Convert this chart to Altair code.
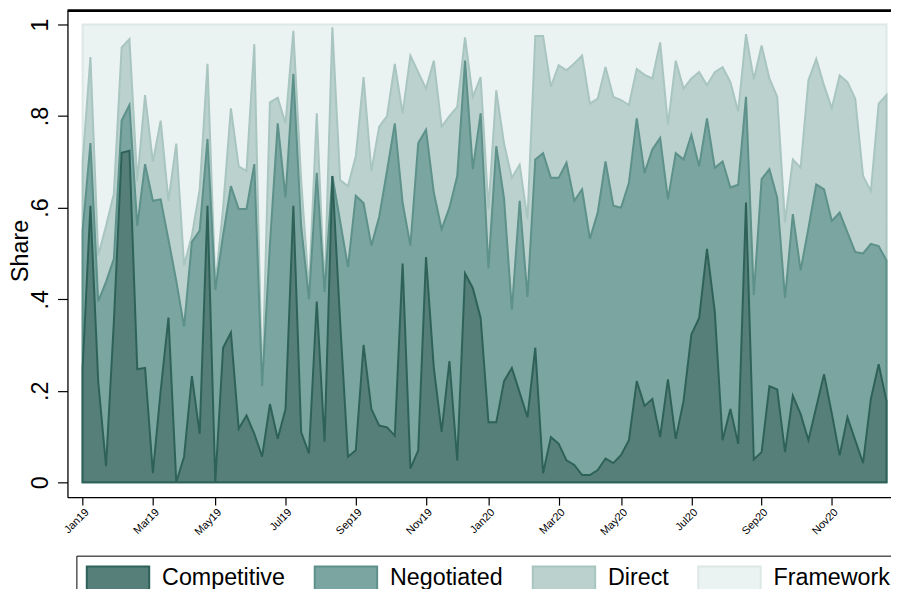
import altair as alt
import pandas as pd

# ---- data (weekly shares, cumulative from the bottom) ----
weeks = list(range(104))

competitive = [
    0.25, 0.604, 0.22, 0.035, 0.35, 0.72, 0.724, 0.247, 0.25, 0.02,
    0.2, 0.36, 0.0, 0.056, 0.232, 0.106, 0.604, 0.0, 0.294, 0.327,
    0.117, 0.146, 0.106, 0.056, 0.171, 0.095, 0.16, 0.604, 0.11, 0.063,
    0.395, 0.089, 0.669, 0.35, 0.056, 0.07, 0.30, 0.16, 0.124, 0.12,
    0.102, 0.478, 0.03, 0.07, 0.492, 0.25, 0.11, 0.265, 0.048, 0.456,
    0.424, 0.359, 0.131, 0.131, 0.221, 0.25, 0.196, 0.142, 0.294, 0.02,
    0.099, 0.084, 0.048, 0.038, 0.016, 0.016, 0.027, 0.052, 0.042, 0.06,
    0.092, 0.221, 0.167, 0.182, 0.099, 0.225, 0.095, 0.178, 0.323, 0.359,
    0.51, 0.373, 0.092, 0.16, 0.084, 0.611, 0.05, 0.066, 0.21, 0.203,
    0.066, 0.189, 0.149, 0.092, 0.164, 0.236, 0.15, 0.059, 0.142, 0.092,
    0.042, 0.182, 0.258, 0.178,
]

upto_negotiated = [
    0.55, 0.741, 0.395, 0.438, 0.488, 0.79, 0.824, 0.56, 0.695, 0.615,
    0.618, 0.53, 0.44, 0.34, 0.525, 0.55, 0.75, 0.42, 0.54, 0.647,
    0.597, 0.597, 0.695, 0.21, 0.52, 0.784, 0.622, 0.892, 0.56, 0.40,
    0.676, 0.416, 0.669, 0.57, 0.47, 0.626, 0.61, 0.517, 0.58, 0.68,
    0.784, 0.611, 0.517, 0.741, 0.77, 0.633, 0.553, 0.6, 0.669, 0.921,
    0.684, 0.806, 0.467, 0.734, 0.62, 0.377, 0.615, 0.405, 0.705, 0.719,
    0.665, 0.665, 0.698, 0.615, 0.64, 0.532, 0.589, 0.701, 0.604, 0.6,
    0.654, 0.795, 0.676, 0.727, 0.752, 0.618, 0.719, 0.705, 0.759, 0.69,
    0.795, 0.687, 0.701, 0.644, 0.65, 0.842, 0.409, 0.662, 0.684, 0.622,
    0.402, 0.586, 0.463, 0.555, 0.651, 0.64, 0.571, 0.589, 0.546, 0.503,
    0.5, 0.521, 0.516, 0.485,
]

upto_direct = [
    0.7, 0.929, 0.496, 0.56, 0.63, 0.95, 0.968, 0.658, 0.846, 0.70,
    0.79, 0.615, 0.74, 0.474, 0.539, 0.64, 0.914, 0.43, 0.6, 0.817,
    0.69, 0.68, 0.957, 0.21, 0.83, 0.84, 0.784, 0.986, 0.66, 0.42,
    0.806, 0.42, 0.994, 0.66, 0.647, 0.712, 0.885, 0.68, 0.777, 0.8,
    0.914, 0.806, 0.932, 0.896, 0.86, 0.921, 0.777, 0.80, 0.82, 0.972,
    0.842, 0.885, 0.597, 0.856, 0.74, 0.665, 0.694, 0.575, 0.975, 0.975,
    0.864, 0.911, 0.90, 0.915, 0.932, 0.827, 0.838, 0.907, 0.842, 0.835,
    0.824, 0.903, 0.89, 0.882, 0.961, 0.781, 0.921, 0.86, 0.882, 0.896,
    0.867, 0.896, 0.907, 0.874, 0.81, 0.979, 0.88, 0.954, 0.882, 0.842,
    0.568, 0.705, 0.687, 0.878, 0.925, 0.867, 0.817, 0.889, 0.874, 0.838,
    0.669, 0.636, 0.827, 0.846,
]

upto_framework = [1.0] * 104

series_names = ["Competitive", "Negotiated", "Direct", "Framework"]
fill_colors = ["#567f79", "#7aa5a0", "#bad1ce", "#ebf2f2"]
stroke_colors = ["#2e6259", "#5d918a", "#a8c5c0", "#dce8e6"]

x_tick_values = [0, 9, 17, 26, 35, 44, 52, 61, 69, 78, 87, 96]
x_tick_labels = ["Jan19", "Mar19", "May19", "Jul19", "Sep19", "Nov19",
                 "Jan20", "Mar20", "May20", "Jul20", "Sep20", "Nov20"]
y_tick_values = [0, 0.2, 0.4, 0.6, 0.8, 1]
y_tick_labels = ["0", ".2", ".4", ".6", ".8", "1"]

# ---- table ----
tops = {
    "Competitive": competitive,
    "Negotiated": upto_negotiated,
    "Direct": upto_direct,
    "Framework": upto_framework,
}
rows = []
for s in series_names:
    for w, v in zip(weeks, tops[s]):
        rows.append({"week": w, "series": s, "value": v})
df = pd.DataFrame(rows)


def js_list(vals):
    return "[" + ",".join(repr(v) if isinstance(v, str) else str(v) for v in vals) + "]"


x_label_expr = f"{js_list(x_tick_labels)}[indexof({js_list(x_tick_values)}, datum.value)]"
y_label_expr = f"{js_list(y_tick_labels)}[indexof({js_list(y_tick_values)}, datum.value)]"

FONT = "Liberation Sans"
PLOT_W, PLOT_H = 831, 491
Y_MIN, Y_MAX = -0.03247, 1.0303

x_scale = alt.Scale(domain=[-1.943, 103.58], nice=False, zero=False)
y_scale = alt.Scale(domain=[Y_MIN, Y_MAX], nice=False, zero=False)

x_axis = alt.Axis(
    values=x_tick_values, labelExpr=x_label_expr, labelAngle=315,
    labelFontSize=11, labelFont=FONT, labelColor="black",
    labelAlign="right", labelBaseline="top", labelPadding=1,
    labelOverlap=False, labelFlush=False, tickSize=8, tickColor="black",
    domainColor="black", domainWidth=1.3, tickWidth=1.2, grid=False, title=None,
)
y_axis = alt.Axis(
    values=y_tick_values, labelExpr=y_label_expr, labelAngle=270,
    labelFontSize=23.5, labelFont=FONT, labelColor="black",
    labelAlign="center", labelBaseline="alphabetic", labelPadding=10,
    tickSize=10, tickColor="black", tickWidth=1.2, domainColor="black",
    domainWidth=1.3, grid=False, title="Share", titleFont=FONT,
    titleFontSize=23.5, titleFontWeight="normal", titleColor="black",
    titleAngle=270, titleAlign="center", titleBaseline="alphabetic",
    titleX=-40, titleY=242,
)

legend = alt.Legend(
    title=None, orient="none", legendX=9, legendY=550, direction="horizontal",
    columns=4, symbolType="M-2.625,-1H2.625V1H-2.625Z", symbolSize=576,
    symbolStrokeWidth=2, symbolOpacity=1, symbolOffset=19,
    labelFont=FONT, labelFontSize=23.5, labelColor="black", labelOffset=31.5,
    labelLimit=0, columnPadding=25, padding=10, strokeColor="black",
    fillColor="white", cornerRadius=0,
)

color_enc = alt.Color("series:N", scale=alt.Scale(domain=series_names, range=fill_colors),
                      legend=legend)
stroke_enc = alt.Stroke("series:N", scale=alt.Scale(domain=series_names, range=stroke_colors),
                        legend=legend)

layers = []
for s in reversed(series_names):
    layer = (
        alt.Chart(df)
        .transform_filter(alt.datum.series == s)
        .mark_area(opacity=1, fillOpacity=1, strokeWidth=2, interpolate="linear")
        .encode(
            x=alt.X("week:Q", scale=x_scale, axis=x_axis),
            y=alt.Y("value:Q", scale=y_scale, axis=y_axis),
            y2=alt.datum(0),
            color=color_enc,
            stroke=stroke_enc,
        )
    )
    layers.append(layer)

# top edge of the plot frame: a horizontal rule at the top of the y domain
frame_top = (
    alt.Chart(pd.DataFrame({"edge": ["top"]}))
    .mark_rule(color="black", strokeWidth=2.6)
    .encode(y=alt.datum(Y_MAX))
)
layers.append(frame_top)

chart = (
    alt.layer(*layers)
    .properties(
        width=PLOT_W, height=PLOT_H,
        autosize=alt.AutoSizeParams(type="none"),
        padding={"left": 60, "top": 0, "right": 0, "bottom": 90},
        background="white",
    )
    .configure(font=FONT)
    .configure_view(stroke=None)
)

chart.save("out.html", embed_options={"renderer": "svg", "actions": False})
